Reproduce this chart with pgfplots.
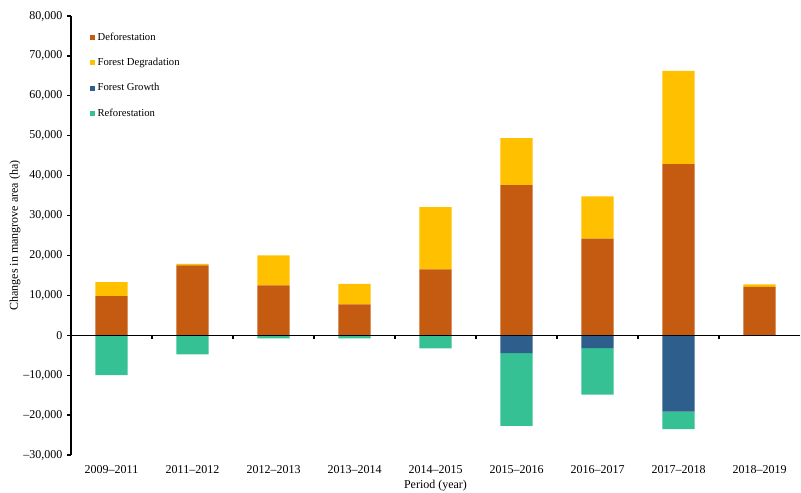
\documentclass[border=0pt]{standalone}
\usepackage{fontspec}
\setmainfont{Liberation Serif}
\usepackage{pgfplots}
\pgfplotsset{compat=1.18}
\definecolor{defo}{HTML}{C55A11}
\definecolor{degr}{HTML}{FFC000}
\definecolor{grow}{HTML}{2E5E8C}
\definecolor{refo}{HTML}{36C195}
\pgfplotsset{
 base/.style={scale only axis, width=546.75pt, height=329.25pt,
   xmin=-0.5, xmax=8.5, ymin=-30000, ymax=80000,
   ybar stacked, bar width=0.4, scaled y ticks=false, scaled x ticks=false},
}
\begin{document}
\begin{tikzpicture}
\begin{axis}[
 base, name=a,
 axis x line*=bottom, axis y line*=left,
 x axis line style={draw=none},
 y axis line style={line width=0.9pt},
 xtick={0,...,8},
 xticklabels={2009\textendash 2011,2011\textendash 2012,2012\textendash 2013,2013\textendash 2014,2014\textendash 2015,2015\textendash 2016,2016\textendash 2017,2017\textendash 2018,2018\textendash 2019},
 major x tick style={draw=none},
 ytick={-30000,-20000,...,80000},
 yticklabels={\textendash 30{,}000,\textendash 20{,}000,\textendash 10{,}000,0,10{,}000,20{,}000,30{,}000,40{,}000,50{,}000,60{,}000,70{,}000,80{,}000},
 tick align=outside, major tick length=3pt,
 major y tick style={black, line width=0.9pt},
 ticklabel style={font=\fontsize{9}{10}\selectfont},
 xticklabel style={anchor=base, yshift=-11pt},
 xlabel={Period (year)}, ylabel={Changes in mangrove area (ha)},
 label style={font=\fontsize{9}{10}\selectfont},
 xlabel style={at={(axis description cs:0.5,0)}, anchor=center, yshift=-23.3pt},
 ylabel style={at={(axis description cs:-0.0768,0.5)}, anchor=center},
 legend style={draw=none, fill=none, at={(axis description cs:0.02,0.975)}, anchor=north west,
   font=\fontsize{8}{9}\selectfont, row sep=8pt},
 legend cell align=left,
 legend image code/.code={\fill[#1] (0pt,-1.9pt) rectangle (3.8pt,1.9pt);},
]
\addplot[fill=defo, draw=none] coordinates {(0,9800) (1,17500) (2,12500) (3,7750) (4,16500) (5,37600) (6,24200) (7,42900) (8,12100)};
\addplot[fill=degr, draw=none] coordinates {(0,3500) (1,400) (2,7500) (3,5150) (4,15600) (5,11800) (6,10600) (7,23350) (8,650)};
\addlegendimage{fill=grow, draw=none}
\addlegendimage{fill=refo, draw=none}
\legend{Deforestation,Forest Degradation,Forest Growth,Reforestation}
\end{axis}
\begin{axis}[base, axis lines=none]
\addplot[fill=grow, draw=none] coordinates {(0,0) (1,0) (2,0) (3,0) (4,0) (5,-4500) (6,-3200) (7,-19100) (8,0)};
\addplot[fill=refo, draw=none] coordinates {(0,-10000) (1,-4800) (2,-800) (3,-800) (4,-3300) (5,-18200) (6,-11700) (7,-4400) (8,0)};
\end{axis}
\begin{axis}[
 at={(0pt,89.795pt)}, anchor=south west,
 scale only axis, width=546.75pt, height=239.455pt,
 xmin=-0.5, xmax=8.5, ymin=0, ymax=80000,
 axis x line*=bottom, axis y line=none,
 x axis line style={line width=0.9pt},
 xtick={0.5,1.5,...,7.5}, xticklabels={},
 ytick=\empty, scaled y ticks=false,
 tick align=outside, major tick length=3pt,
 major x tick style={black, line width=0.9pt},
]
\end{axis}
\pgfresetboundingbox
\path[use as bounding box] ([xshift=-53.25pt,yshift=-27.75pt]a.south west) rectangle ([xshift=0.75pt,yshift=12pt]a.north east);
\end{tikzpicture}
\end{document}
